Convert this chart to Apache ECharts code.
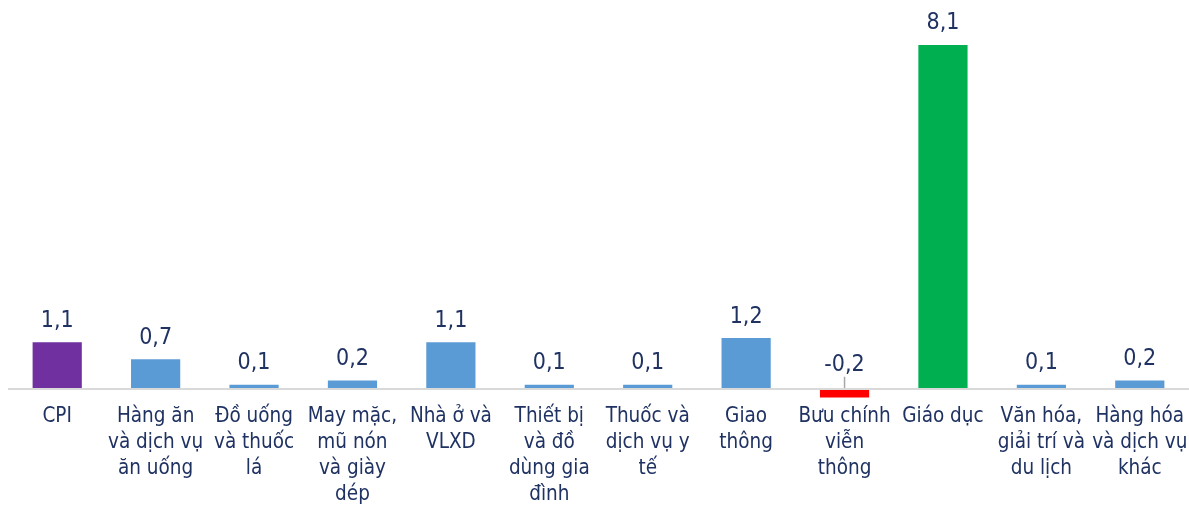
<!DOCTYPE html>
<html>
<head>
<meta charset="utf-8">
<script src="https://cdn.jsdelivr.net/npm/echarts@6/dist/echarts.min.js"></script>
<style>
  html, body { margin: 0; padding: 0; background: #ffffff; }
  #chart { width: 1189px; height: 506px; }
</style>
</head>
<body>
<div id="chart"></div>
<script>
// Nhóm hàng (nhãn trục, xuống dòng như bảng gốc)
const categories = [
  'CPI',
  'Hàng ăn\nvà dịch vụ\năn uống',
  'Đồ uống\nvà thuốc\nlá',
  'May mặc,\nmũ nón\nvà giày\ndép',
  'Nhà ở và\nVLXD',
  'Thiết bị\nvà đồ\ndùng gia\nđình',
  'Thuốc và\ndịch vụ y\ntế',
  'Giao\nthông',
  'Bưu chính\nviễn\nthông',
  'Giáo dục',
  'Văn hóa,\ngiải trí và\ndu lịch',
  'Hàng hóa\nvà dịch vụ\nkhác'
];

// Mức tăng/giảm (%)
const values = [1.1, 0.7, 0.1, 0.2, 1.1, 0.1, 0.1, 1.2, -0.2, 8.1, 0.1, 0.2];

const COLOR_CPI = '#7030A0';
const COLOR_UP = '#5B9BD5';
const COLOR_DOWN = '#FF0000';
const COLOR_MAX = '#00B050';
const TEXT = '#1F3262';
const FONT = '"DejaVu Sans Condensed", "DejaVu Sans", sans-serif';

const maxVal = Math.max(...values);
const minVal = Math.min(...values);
const fmt = v => v.toFixed(1).replace('.', ',');

const seriesData = values.map((v, i) => {
  let color = COLOR_UP;
  if (i === 0) color = COLOR_CPI;
  else if (v < 0) color = COLOR_DOWN;
  else if (v === maxVal) color = COLOR_MAX;
  const item = { value: v, itemStyle: { color } };
  if (v < 0) {
    item.label = { position: 'inside' };
    item.labelLine = { show: true, length2: 0, lineStyle: { color: '#A6A6A6', width: 1.5 } };
  }
  return item;
});

const chart = echarts.init(document.getElementById('chart'), null, { renderer: 'canvas' });
chart.setOption({
  animation: false,
  backgroundColor: '#ffffff',
  grid: {
    left: 8, right: 0, top: 45, bottom: 108.5,
    outerBoundsMode: 'none', containLabel: false
  },
  xAxis: {
    type: 'category',
    data: categories,
    axisLine: { show: false, onZero: false },
    axisTick: { show: false },
    axisLabel: {
      interval: 0,
      margin: 6,
      color: TEXT,
      fontFamily: FONT,
      fontSize: 20.5,
      lineHeight: 26,
      verticalAlign: 'top'
    }
  },
  yAxis: {
    type: 'value',
    min: minVal,
    max: maxVal,
    show: false,
    splitLine: { show: false }
  },
  series: [{
    type: 'bar',
    data: seriesData,
    barWidth: '50%',
    label: {
      show: true,
      position: 'top',
      distance: 10,
      color: TEXT,
      fontFamily: FONT,
      fontSize: 23,
      formatter: p => fmt(p.value)
    },
    // nhãn giá trị âm được đẩy lên trên trục, nối với cột bằng đường dẫn
    labelLayout: p => (values[p.dataIndex] < 0 ? { dy: -28 } : {}),
    // đường trục tại mức 0
    markLine: {
      silent: true,
      symbol: 'none',
      label: { show: false },
      lineStyle: { color: '#D9D9D9', width: 2, type: 'solid' },
      data: [{ yAxis: 0 }]
    }
  }]
});
</script>
</body>
</html>
